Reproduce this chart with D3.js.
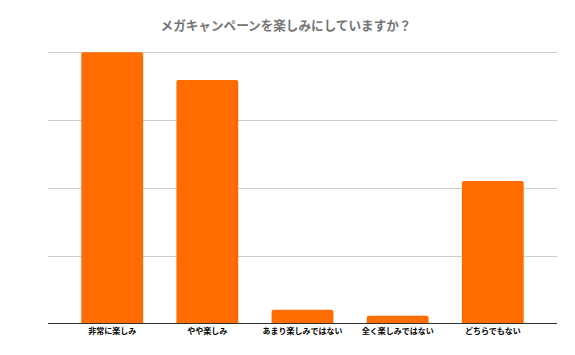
<!DOCTYPE html>
<html><head><meta charset="utf-8">
<script src="https://cdn.jsdelivr.net/npm/d3@7"></script>
<style>body{margin:0;background:#fff}svg{display:block}</style>
</head><body>
<svg id="c" width="575" height="355"></svg>
<script>
const categories = ["非常に楽しみ","やや楽しみ","あまり楽しみではない","全く楽しみではない","どちらでもない"];
const values = [40.0, 35.9, 2.0, 1.1, 21.0];
const yTicks = [0, 10, 20, 30, 40];
const title = "メガキャンペーンを楽しみにしていますか？";

const svg = d3.select("#c");
const W = 575, H = 355;
const m = {left:48, right:18, top:52.3, bottom:31.7};
const x = d3.scaleBand().domain(categories).range([m.left, W - m.right]).paddingInner(0.35).paddingOuter(0.35);
const y = d3.scaleLinear().domain([0, 40]).range([H - m.bottom, m.top]);

const font = "'Noto Sans CJK JP', 'Noto Sans', sans-serif";

// gridlines
svg.append("g").selectAll("line").data(yTicks.filter(d => d > 0)).join("line")
  .attr("x1", m.left).attr("x2", W - m.right)
  .attr("y1", d => Math.round(y(d)) + 0.5).attr("y2", d => Math.round(y(d)) + 0.5)
  .attr("stroke", "#cccccc").attr("stroke-width", 1);

// bars with slightly rounded top corners
const r = 2;
svg.append("g").selectAll("path").data(values).join("path")
  .attr("fill", "#ff6d00")
  .attr("d", (d, i) => {
    const x0 = x(categories[i]), w = x.bandwidth(), y0 = y(d), yb = y(0);
    return `M${x0},${yb}V${y0 + r}Q${x0},${y0} ${x0 + r},${y0}H${x0 + w - r}Q${x0 + w},${y0} ${x0 + w},${y0 + r}V${yb}Z`;
  });

// baseline
svg.append("line").attr("x1", m.left).attr("x2", W - m.right)
  .attr("y1", Math.round(y(0)) + 0.5).attr("y2", Math.round(y(0)) + 0.5)
  .attr("stroke", "#333333").attr("stroke-width", 1);

// x labels via axis
const xAxis = svg.append("g").attr("transform", `translate(0,${y(0)})`)
  .call(d3.axisBottom(x).tickSize(0).tickPadding(5));
xAxis.select(".domain").remove();
xAxis.selectAll("text").attr("font-family", font).attr("font-size", 8).attr("font-weight", "bold").attr("fill", "#000");

// title
svg.append("text").attr("x", 286).attr("y", 30).attr("text-anchor", "middle")
  .attr("font-family", font).attr("font-size", 12.6).attr("font-weight", "bold").attr("fill", "#757575")
  .text(title);
</script>
</body></html>
